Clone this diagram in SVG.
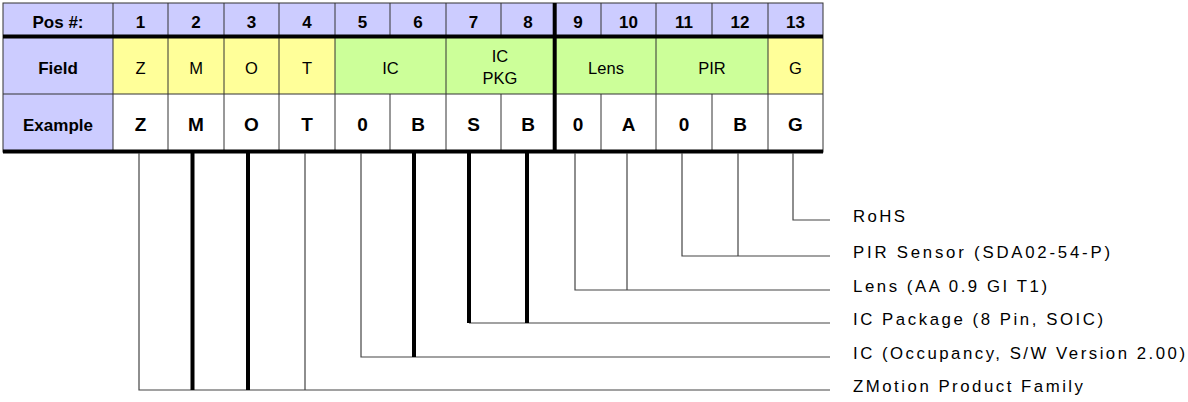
<svg xmlns="http://www.w3.org/2000/svg" width="1188" height="402" viewBox="0 0 1188 402">
<style>
text{font-family:"Liberation Sans",Arial,sans-serif;fill:#000}
.hd{font-size:17px;font-weight:bold;text-anchor:middle}
.fd{font-size:16.5px;text-anchor:middle}
.ex{font-size:19px;font-weight:bold;text-anchor:middle}
.lb{font-size:16.8px}
.lav{fill:#CCCCFF}
.yel{fill:#FFFF99}
.grn{fill:#CCFF99}
.wht{fill:#FFFFFF}
.grid{stroke:#333;stroke-width:1;fill:none}
.thick{stroke:#000;stroke-width:4;fill:none}
.thin{stroke:#444;stroke-width:1.2;fill:none}
.bold{stroke:#000;stroke-width:4;fill:none}
</style>
<rect width="1188" height="402" fill="#fff"/>
<g id="table">
  <g id="row-pos">
    <rect class="lav" x="3" y="3" width="820" height="33"/>
    <text class="hd" x="58" y="28">Pos #:</text>
    <text class="hd" x="140.5" y="28">1</text>
    <text class="hd" x="196" y="28">2</text>
    <text class="hd" x="251.5" y="28">3</text>
    <text class="hd" x="307" y="28">4</text>
    <text class="hd" x="362.5" y="28">5</text>
    <text class="hd" x="418" y="28">6</text>
    <text class="hd" x="473.5" y="28">7</text>
    <text class="hd" x="528" y="28">8</text>
    <text class="hd" x="578" y="28">9</text>
    <text class="hd" x="628.5" y="28">10</text>
    <text class="hd" x="684" y="28">11</text>
    <text class="hd" x="740" y="28">12</text>
    <text class="hd" x="795.5" y="28">13</text>
  </g>
  <g id="row-field">
    <rect class="lav" x="3" y="36" width="110" height="58"/>
    <rect class="yel" x="113" y="36" width="222" height="58"/>
    <rect class="grn" x="335" y="36" width="433" height="58"/>
    <rect class="yel" x="768" y="36" width="55" height="58"/>
    <text class="hd" x="58" y="73.5">Field</text>
    <text class="fd" x="140.5" y="73.5">Z</text>
    <text class="fd" x="196" y="73.5">M</text>
    <text class="fd" x="251.5" y="73.5">O</text>
    <text class="fd" x="307" y="73.5">T</text>
    <text class="fd" x="390.5" y="73.5">IC</text>
    <text class="fd" x="500" y="62">IC</text>
    <text class="fd" x="500" y="84">PKG</text>
    <text class="fd" x="606" y="73.5">Lens</text>
    <text class="fd" x="712" y="73.5">PIR</text>
    <text class="fd" x="795.5" y="73.5">G</text>
  </g>
  <g id="row-example">
    <rect class="lav" x="3" y="94" width="110" height="58"/>
    <rect class="wht" x="113" y="94" width="710" height="58"/>
    <text class="hd" x="58" y="131">Example</text>
    <text class="ex" x="140.5" y="131">Z</text>
    <text class="ex" x="196" y="131">M</text>
    <text class="ex" x="251.5" y="131">O</text>
    <text class="ex" x="307" y="131">T</text>
    <text class="ex" x="362.5" y="131">0</text>
    <text class="ex" x="418" y="131">B</text>
    <text class="ex" x="473.5" y="131">S</text>
    <text class="ex" x="528" y="131">B</text>
    <text class="ex" x="578" y="131">0</text>
    <text class="ex" x="628.5" y="131">A</text>
    <text class="ex" x="684" y="131">0</text>
    <text class="ex" x="740" y="131">B</text>
    <text class="ex" x="795.5" y="131">G</text>
  </g>
  <g id="grid">
    <rect class="grid" x="3" y="3" width="820" height="149"/>
    <path class="grid" d="M3 94H823
      M113 3V152 M168 3V36 M224 3V36 M279 3V36 M335 3V36 M390 3V36 M446 3V36 M501 3V36 M601 3V36 M656 3V36 M712 3V36 M768 3V36
      M168 36V94 M224 36V94 M279 36V94 M335 36V94 M446 36V94 M656 36V94 M768 36V94
      M168 94V152 M224 94V152 M279 94V152 M335 94V152 M390 94V152 M446 94V152 M501 94V152 M601 94V152 M656 94V152 M712 94V152 M768 94V152"/>
    <path class="thick" d="M3 36.5H823 M3 151.5H823 M554.7 3V152" />
  </g>
</g>
<g id="connectors">
  <path class="thin" d="M793 153V220H830"/>
  <path class="thin" d="M682 153V256H830 M738 153V256"/>
  <path class="thin" d="M575 153V290H830 M627 153V290"/>
  <path class="thin" d="M469 323H830"/>
  <path class="bold" d="M469 153V323 M527 153V323"/>
  <path class="thin" d="M361 153V357H830"/>
  <path class="bold" d="M414 153V357"/>
  <path class="thin" d="M139 153V390H830 M305 153V390"/>
  <path class="bold" d="M192.5 153V390 M248 153V390"/>
</g>
<g id="label-rohs"><text class="lb" x="853" y="222" textLength="52" lengthAdjust="spacing">RoHS</text></g>
<g id="label-pir"><text class="lb" x="853" y="258" textLength="257" lengthAdjust="spacing">PIR Sensor (SDA02-54-P)</text></g>
<g id="label-lens"><text class="lb" x="853" y="292" textLength="194" lengthAdjust="spacing">Lens (AA 0.9 GI T1)</text></g>
<g id="label-icpkg"><text class="lb" x="853" y="325" textLength="250" lengthAdjust="spacing">IC Package (8 Pin, SOIC)</text></g>
<g id="label-ic"><text class="lb" x="853" y="359" textLength="332" lengthAdjust="spacing">IC (Occupancy, S/W Version 2.00)</text></g>
<g id="label-zmotion"><text class="lb" x="853" y="392" textLength="230" lengthAdjust="spacing">ZMotion Product Family</text></g>
</svg>
